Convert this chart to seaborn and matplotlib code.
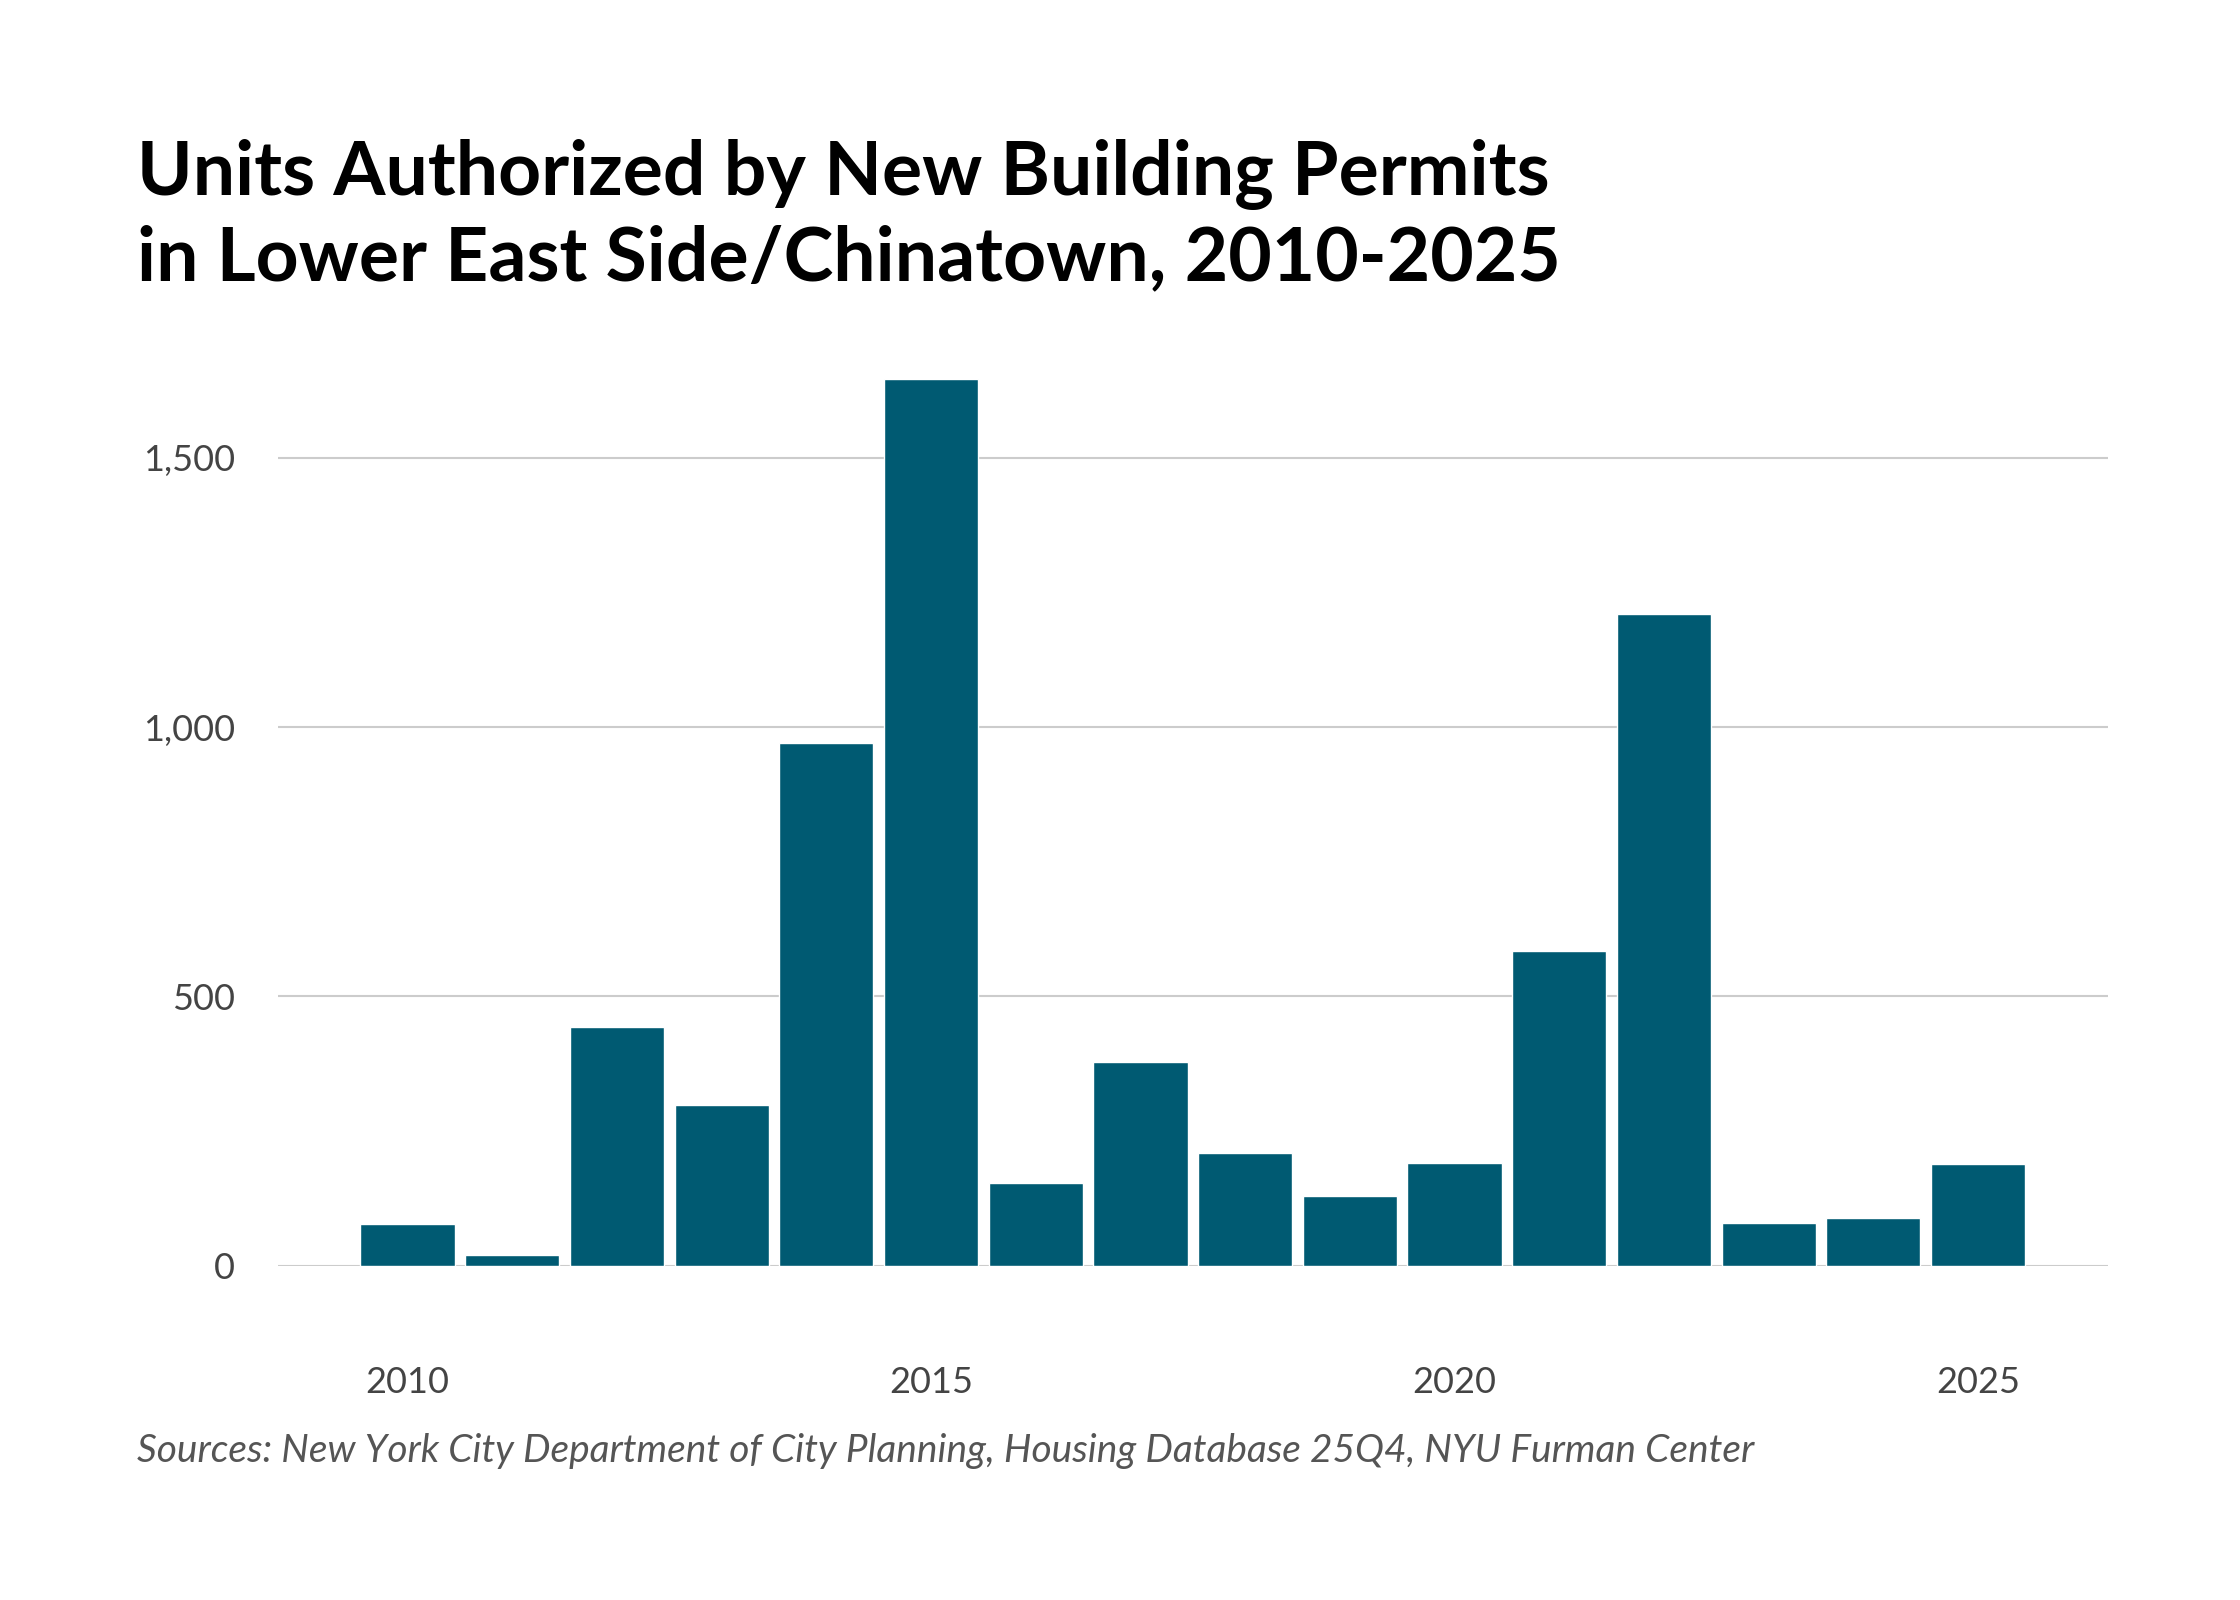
import matplotlib
matplotlib.use("Agg")
import matplotlib.pyplot as plt
import seaborn as sns

years = list(range(2010, 2026))
units = [77, 19, 444, 298, 971, 1646, 154, 378, 210, 130, 191, 585, 1210, 80, 88, 189]
tick_years = [2010, 2015, 2020, 2025]
y_ticks = [0, 500, 1000, 1500]

sns.set_theme(style="white")
plt.rcParams['font.family'] = ['Lato', 'DejaVu Sans']

fig = plt.figure(figsize=(22.4, 16), dpi=100)
ax = fig.add_axes([0.124, 0.209, 0.817, 0.557])

sns.barplot(x=years, y=units, native_scale=True, color="#005a72",
            saturation=1, width=0.9, ax=ax)

ax.set_xlim(2008.76, 2026.24)
ax.set_ylim(0, 1655)
ax.set_yticks(y_ticks)
ax.set_yticklabels([f"{v:,}" for v in y_ticks])
ax.set_xticks(tick_years)
ax.set_xticklabels([str(y) for y in tick_years])
ax.yaxis.grid(True, color="#cccccc", linewidth=1.5)
ax.set_axisbelow(True)
ax.tick_params(axis="x", length=0, pad=72, labelsize=26, labelcolor="#444444")
ax.tick_params(axis="y", length=0, pad=31, labelsize=26, labelcolor="#444444")
sns.despine(ax=ax, left=True, bottom=True)

fig.text(0.061, 0.817, "Units Authorized by New Building Permits\nin Lower East Side/Chinatown, 2010-2025",
         fontsize=54, fontweight="bold", color="black", va="bottom", linespacing=1.25)
fig.text(0.061, 0.093, "Sources: New York City Department of City Planning, Housing Database 25Q4, NYU Furman Center",
         fontsize=28, style="italic", color="#555555", va="center")

fig.savefig("out.png", dpi=100)
